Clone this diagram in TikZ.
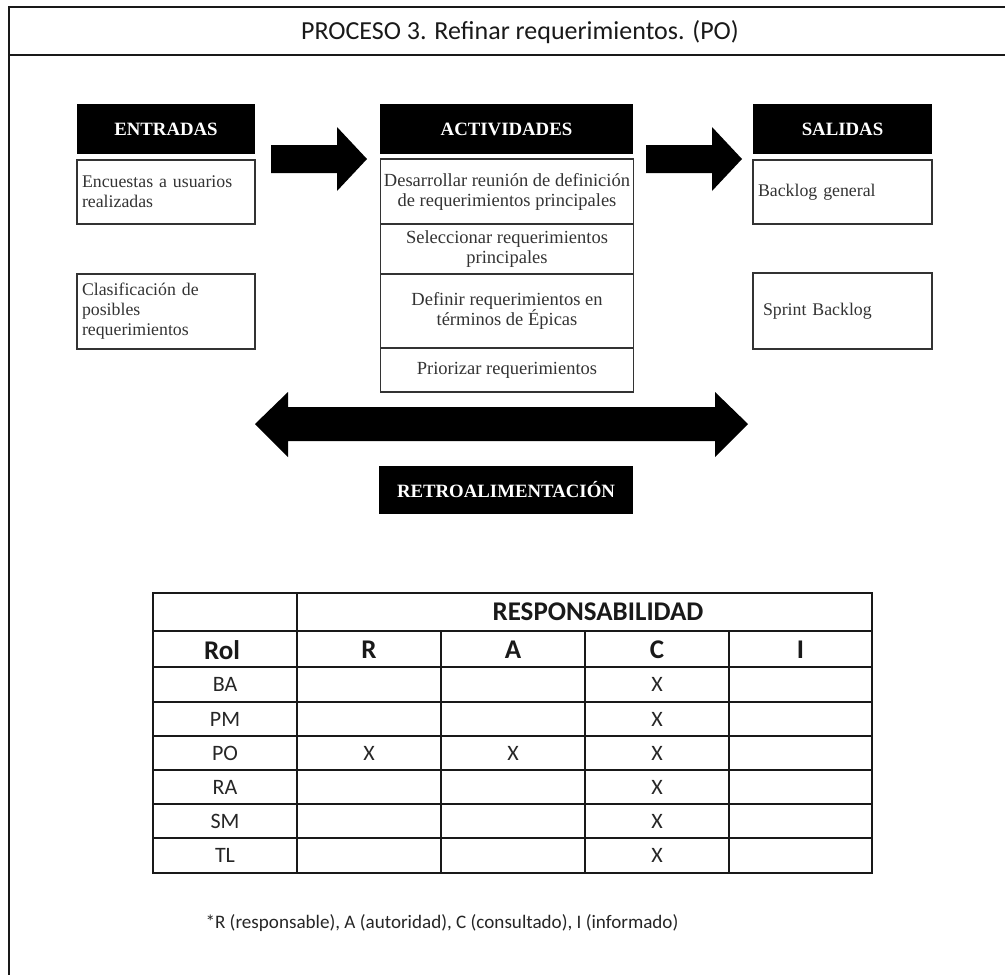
\documentclass[tikz,border=0pt]{standalone}
\usepackage{fontspec}
\setmainfont{Liberation Serif}
\newfontfamily\calibri{Carlito}
\begin{document}
\begin{tikzpicture}[x=1pt,y=-1pt,
  frame/.style={line width=2.8pt,black!90},
  hdr/.style={fill=black,text=white,inner sep=0pt,minimum height=50pt,
    font=\fontsize{18.8}{20}\selectfont\bfseries},
  boxl/.style={draw=black!80,line width=1.8pt,inner ysep=0pt,inner xsep=5pt,
    text width=168pt,align=left,text=black!80,
    font=\fontsize{17.8}{20}\selectfont},
  boxc/.style={draw=black!80,line width=1.8pt,inner sep=0pt,minimum width=253pt,
    align=center,text=black!80,font=\fontsize{18.5}{20}\selectfont},
  blk/.style={fill=black},
  tbl/.style={line width=1.3pt,black!90},
  th/.style={font=\calibri\fontsize{27}{30}\selectfont\bfseries,text=black!90},
  td/.style={font=\calibri\fontsize{22}{26}\selectfont,text=black!85},
]
\useasboundingbox (0,0) rectangle (1005,975);

% outer frame and title band
\coordinate (fTR) at (1005,7);
\coordinate (fTL) at (9,7);
\coordinate (fBL) at (9,975);
\coordinate (bandL) at (9,55);
\coordinate (bandR) at (1005,55);
\draw[frame] (fTR) -- (fTL) -- (fBL);
\draw[frame] (bandL) -- (bandR);
\node[font=\calibri\fontsize{26}{29}\selectfont,text=black!90] (title) at (520,32)
  {PROCESO 3. Refinar requerimientos. (PO)};

% inputs
\node[hdr,minimum width=178pt] (entH) at (166,129) {ENTRADAS};
\node[boxl,minimum height=64pt] (ent1) at (166,192) {Encuestas a usuarios\\realizadas};
\node[boxl,minimum height=75pt] (ent2) at (166,311.5) {Clasificación de\\posibles\\requerimientos};

% activities
\node[hdr,minimum width=253pt] (actH) at (506.5,129) {ACTIVIDADES};
\node[boxc,minimum height=65pt] (act1) at (507,191.5) {Desarrollar reunión de definición\\de requerimientos principales};
\node[boxc,minimum height=50pt] (act2) at (507,249) {Seleccionar requerimientos\\principales};
\node[boxc,minimum height=74pt] (act3) at (507,311) {Definir requerimientos en\\términos de Épicas};
\node[boxc,minimum height=44pt] (act4) at (507,370) {Priorizar requerimientos};

% outputs
\node[hdr,minimum width=179pt] (salH) at (842.5,129) {SALIDAS};
\node[boxl,minimum height=64pt,text width=169pt] (sal1) at (842.5,192) {Backlog general};
\node[boxl,minimum height=76pt,text width=159pt,inner xsep=10pt] (sal2) at (842.5,311) {Sprint Backlog};

% feedback label
\node[hdr,minimum width=254pt,minimum height=48pt] (retro) at (506,490) {RETROALIMENTACIÓN};

% block arrows: tail x, tip x, head base x, centre y, shaft half, head half
\newcommand\blkarrow[6]{%
  \fill[blk] (#1,#4-#5) -- (#3,#4-#5) -- (#3,#4-#6) -- (#2,#4)
    -- (#3,#4+#6) -- (#3,#4+#5) -- (#1,#4+#5) -- cycle;}
\coordinate (arrA) at (319,159);
\coordinate (arrB) at (694,159);
\blkarrow{271}{367}{337}{159}{14}{32}
\blkarrow{646}{742}{712}{159}{14}{32}

% feedback double arrow
\coordinate (fbL) at (255,424);
\coordinate (fbR) at (748,424);
\fill[blk] (fbL) -- ++(33,-32) -- ++(0,15) -- ++(427,0) -- ++(0,-15) -- (fbR)
  -- ++(-33,33) -- ++(0,-16) -- ++(-427,0) -- ++(0,16) -- cycle;

% responsibility table
\draw[tbl] (153,593) rectangle (872,873);
\foreach \yy in {631,667,702,736,770,804,838} \draw[tbl] (153,\yy) -- (872,\yy);
\draw[tbl] (297,593) -- (297,873);
\foreach \xx in {441,585,729} \draw[tbl] (\xx,631) -- (\xx,873);

\node[th] (resp) at (598,612) {RESPONSABILIDAD};
\node[th] (hRol) at (222,650) {Rol};
\node[th] (hR) at (369,650) {R};
\node[th] (hA) at (513,650) {A};
\node[th] (hC) at (657,650) {C};
\node[th] (hI) at (800.5,650) {I};

\foreach \rl/\yy in {BA/684.5,PM/719,PO/753,RA/787,SM/821,TL/855.5}{
  \node[td] (r\rl) at (225,\yy) {\rl};
  \node[td] (c\rl) at (657,\yy) {X};
}
\node[td] (rPO-R) at (369,753) {X};
\node[td] (rPO-A) at (513,753) {X};

\node[anchor=west,font=\calibri\fontsize{19.1}{22}\selectfont,text=black!85] (note) at (202,923)
  {*R (responsable), A (autoridad), C (consultado), I (informado)};
\end{tikzpicture}
\end{document}
